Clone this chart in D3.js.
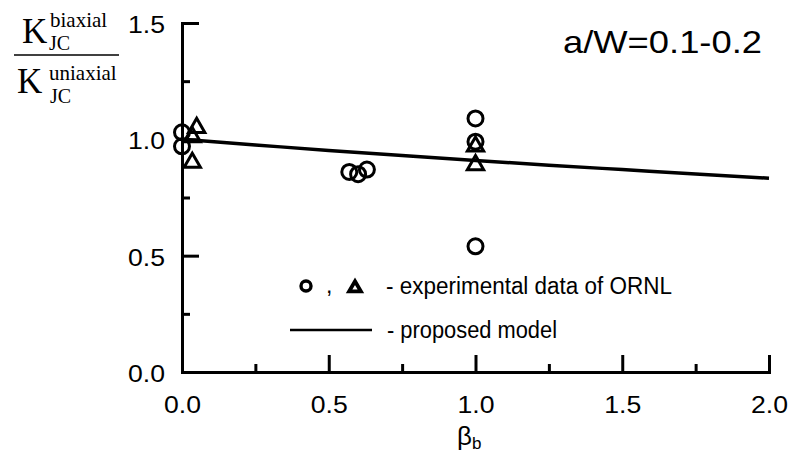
<!DOCTYPE html>
<html><head><meta charset="utf-8">
<script src="https://cdn.jsdelivr.net/npm/d3@7"></script>
<style>body{margin:0;background:#fff}svg{display:block}</style>
</head><body>
<svg id="c" width="791" height="452"></svg>
<script>
// ---- data ----
const xMajorTicks = [0, 0.5, 1.0, 1.5, 2.0];
const xMinorTicks = [0.25, 0.75, 1.25, 1.75];
const yMajorTicks = [0, 0.5, 1.0, 1.5];
const yMinorTicks = [0.25, 0.75, 1.25];
const circleBeta = [0.0, 0.0, 0.57, 0.60, 0.63, 1.0, 1.0, 1.0];
const circleK    = [1.03, 0.97, 0.86, 0.85, 0.87, 1.09, 0.99, 0.54];
const triBeta = [0.05, 0.035, 0.035, 1.0, 1.0];
const triK    = [1.05, 1.01, 0.90, 0.97, 0.89];
const modelBeta = [0, 0.25, 0.5, 0.75, 1.0, 1.25, 1.5, 1.75, 2.0];
const modelK    = [1.0, 0.976, 0.952, 0.930, 0.909, 0.889, 0.870, 0.851, 0.833];
const annotation = "a/W=0.1-0.2";
const legendText1 = "- experimental data of ORNL";
const legendText2 = "- proposed model";

// ---- layout ----
const svg = d3.select("#c");
const x = d3.scaleLinear().domain([0, 2]).range([182, 769]);
const y = d3.scaleLinear().domain([0, 1.5]).range([372, 23]);
const sans = "'Liberation Sans', Arial, sans-serif";
const serif = "'Liberation Serif', 'Times New Roman', serif";

// minor ticks
svg.append("g").attr("transform", "translate(0,372)")
  .call(d3.axisBottom(x).tickValues(xMinorTicks).tickSize(-8).tickSizeOuter(0).tickFormat(""))
  .call(g => g.select(".domain").remove());
svg.append("g").attr("transform", "translate(182,0)")
  .call(d3.axisLeft(y).tickValues(yMinorTicks).tickSize(-8).tickSizeOuter(0).tickFormat(""))
  .call(g => g.select(".domain").remove());

// major axes
const gx = svg.append("g").attr("transform", "translate(0,372)")
  .call(d3.axisBottom(x).tickValues(xMajorTicks).tickSize(-17).tickSizeOuter(0)
        .tickPadding(24).tickFormat(d3.format(".1f")));
const gy = svg.append("g").attr("transform", "translate(182,0)")
  .call(d3.axisLeft(y).tickValues(yMajorTicks).tickSize(-17).tickSizeOuter(0)
        .tickPadding(17).tickFormat(d3.format(".1f")));

svg.selectAll(".tick line, .domain").attr("stroke", "#000").attr("stroke-width", 3);
svg.selectAll(".domain").attr("stroke-linecap", "square");
[gx, gy].forEach(g => g.selectAll("text")
  .attr("font-family", sans).attr("font-size", 24).attr("fill", "#000")
  .attr("textLength", 37).attr("lengthAdjust", "spacingAndGlyphs"));
gy.selectAll("text").attr("dy", "0.4em");

// model line
svg.append("path")
  .datum(modelBeta.map((b, i) => [b, modelK[i]]))
  .attr("fill", "none").attr("stroke", "#000").attr("stroke-width", 3.5)
  .attr("d", d3.line().x(d => x(d[0])).y(d => y(d[1])).curve(d3.curveMonotoneX));

// circles
svg.append("g").selectAll("circle")
  .data(circleBeta.map((b, i) => [b, circleK[i]]))
  .join("circle")
  .attr("cx", d => x(d[0])).attr("cy", d => y(d[1])).attr("r", 7.5)
  .attr("fill", "none").attr("stroke", "#000").attr("stroke-width", 3);

// triangles
const tri = d3.symbol(d3.symbolTriangle, 115);
svg.append("g").selectAll("path")
  .data(triBeta.map((b, i) => [b, triK[i]]))
  .join("path")
  .attr("transform", d => `translate(${x(d[0])},${y(d[1])})`)
  .attr("d", tri)
  .attr("fill", "none").attr("stroke", "#000").attr("stroke-width", 3);

// annotation
svg.append("text").attr("x", 563).attr("y", 53)
  .attr("font-family", sans).attr("font-size", 32)
  .attr("textLength", 199).attr("lengthAdjust", "spacingAndGlyphs")
  .text(annotation);

// legend
svg.append("circle").attr("cx", 306).attr("cy", 286).attr("r", 5)
  .attr("fill", "none").attr("stroke", "#000").attr("stroke-width", 3.4);
svg.append("text").attr("x", 326).attr("y", 293).attr("font-family", sans)
  .attr("font-size", 23).text(",");
svg.append("path").attr("transform", "translate(355,288)")
  .attr("d", d3.symbol(d3.symbolTriangle, 60))
  .attr("fill", "none").attr("stroke", "#000").attr("stroke-width", 3.8)
  .attr("stroke-linejoin", "miter");
svg.append("text").attr("x", 386).attr("y", 294).attr("font-family", sans)
  .attr("font-size", 23).attr("textLength", 286).attr("lengthAdjust", "spacingAndGlyphs")
  .text(legendText1);
svg.append("line").attr("x1", 290).attr("x2", 372).attr("y1", 330).attr("y2", 330)
  .attr("stroke", "#000").attr("stroke-width", 2.5);
svg.append("text").attr("x", 387).attr("y", 338).attr("font-family", sans)
  .attr("font-size", 23).attr("textLength", 170).attr("lengthAdjust", "spacingAndGlyphs")
  .text(legendText2);

// x-axis title: beta_b
const xt = svg.append("text").attr("x", 457).attr("y", 445)
  .attr("font-family", sans).attr("font-size", 26);
xt.append("tspan").text("β");
xt.append("tspan").attr("font-size", 17).attr("dy", 4).text("b");

// y-axis title: fraction
const yl = svg.append("g").attr("font-family", serif).attr("fill", "#000");
yl.append("text").attr("x", 22).attr("y", 43).attr("font-size", 35).text("K");
yl.append("text").attr("x", 50).attr("y", 27).attr("font-size", 21).text("biaxial");
yl.append("text").attr("x", 49).attr("y", 50).attr("font-size", 20).text("JC");
yl.append("line").attr("x1", 14).attr("x2", 119).attr("y1", 55).attr("y2", 55)
  .attr("stroke", "#000").attr("stroke-width", 1.5);
yl.append("text").attr("x", 17).attr("y", 93).attr("font-size", 35).text("K");
yl.append("text").attr("x", 49).attr("y", 80).attr("font-size", 21).text("uniaxial");
yl.append("text").attr("x", 50).attr("y", 103).attr("font-size", 20).text("JC");
</script>
</body></html>
